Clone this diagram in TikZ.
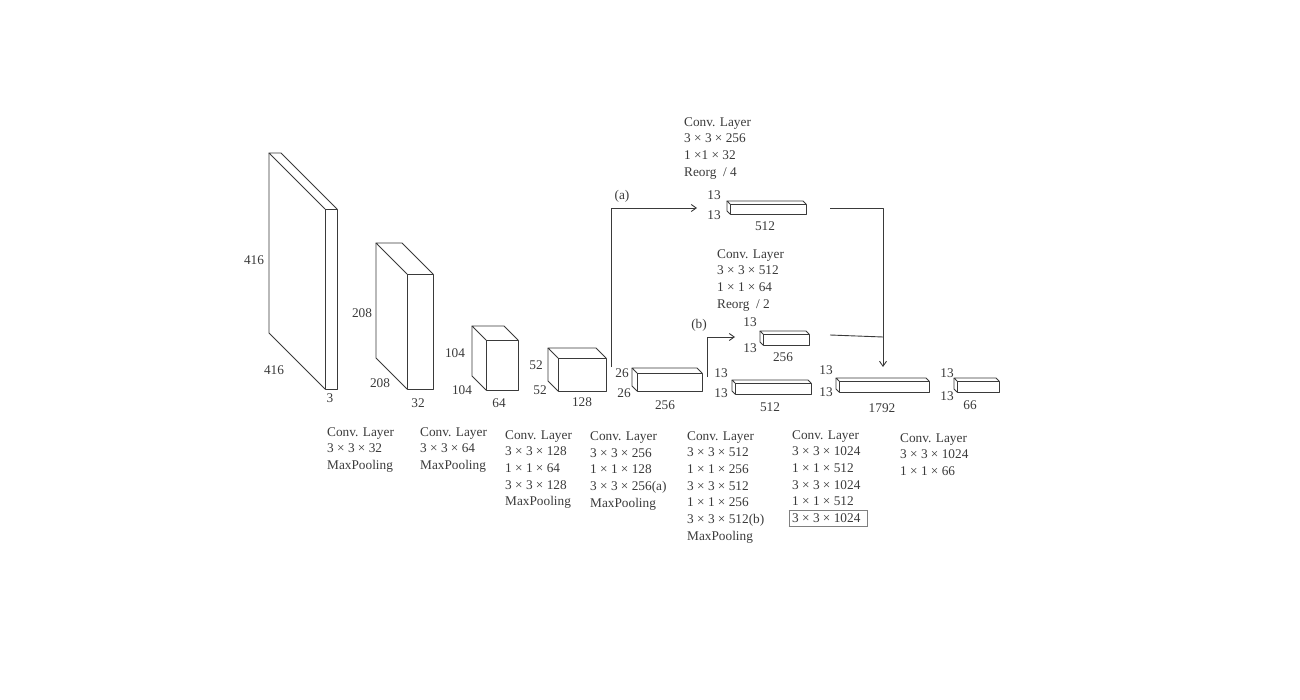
\documentclass[tikz,border=0pt]{standalone}
\usepackage{fontspec}
\setmainfont{Liberation Serif}
\usetikzlibrary{arrows.meta}
\definecolor{ink}{HTML}{3A3A3A}
\tikzset{
 edge/.style={draw=ink, line width=0.9pt, line join=round},
 face/.style={edge, fill=white, inner sep=0pt, outer sep=0pt},
 dim/.style={text=ink, font=\fontsize{13.3}{16.7}\selectfont, inner sep=0pt},
 blk/.style={dim, align=left, anchor=north west},
 arr/.style={edge, -{Straight Barb[length=5pt,width=7pt]}},
}
% name, cx, cy, w, h, depth
\newcommand\cub[6]{%
 \node[face,minimum width=#4pt,minimum height=#5pt] (#1) at (#2,#3) {};
 \draw[edge] (#1.north west) -- ++(-#6,-#6) -- ++(#4,0) -- (#1.north east);
 \draw[edge] (#1.north west) ++(-#6,-#6) -- ++(0,#5) -- (#1.south west);
}
\begin{document}
\begin{tikzpicture}[x=1pt,y=-1pt]
\useasboundingbox (0,0) rectangle (1300,700);
% cuboids
\cub{b1}{331}{299}{12}{180}{56}
\cub{b2}{420}{331.5}{26}{115}{31}
\cub{b3}{502}{365}{32}{50}{14}
\cub{b4}{582}{374.5}{48}{33}{10}
\cub{b5}{669.5}{382}{65}{18}{5}
\cub{ba}{768}{209}{76}{10}{3}
\cub{bb}{786}{339.5}{46}{11}{3}
\cub{b6}{773}{388.5}{76}{11}{3}
\cub{b7}{884}{386.5}{90}{11}{3}
\cub{b8}{978}{386.5}{42}{11}{3}
% dimension labels
\node[dim] (d1a) at (254,260) {416};
\node[dim] (d1b) at (274,370) {416};
\node[dim] (d1c) at (330,398) {3};
\node[dim] (d2a) at (362,313) {208};
\node[dim] (d2b) at (380,383) {208};
\node[dim] (d2c) at (418,403) {32};
\node[dim] (d3a) at (455,353) {104};
\node[dim] (d3b) at (462,390) {104};
\node[dim] (d3c) at (499,403) {64};
\node[dim] (d4a) at (536,365) {52};
\node[dim] (d4b) at (540,390) {52};
\node[dim] (d4c) at (582,402) {128};
\node[dim] (d5a) at (622,373) {26};
\node[dim] (d5b) at (624,393) {26};
\node[dim] (d5c) at (665,405) {256};
\node[dim] (daa) at (714,195) {13};
\node[dim] (dab) at (714,215) {13};
\node[dim] (dac) at (765,226) {512};
\node[dim] (dba) at (750,322) {13};
\node[dim] (dbb) at (750,348) {13};
\node[dim] (dbc) at (783,357) {256};
\node[dim] (d6a) at (721,373) {13};
\node[dim] (d6b) at (721,393) {13};
\node[dim] (d6c) at (770,407) {512};
\node[dim] (d7a) at (826,370) {13};
\node[dim] (d7b) at (826,392) {13};
\node[dim] (d7c) at (882,408) {1792};
\node[dim] (d8a) at (947,373) {13};
\node[dim] (d8b) at (947,396) {13};
\node[dim] (d8c) at (970,405) {66};
% connectors
\coordinate (as) at (611,367);
\coordinate (at) at (697,208);
\draw[arr] (as) |- (at);
\node[dim] (la) at (622,196) {(a)};
\coordinate (ae) at (830,208);
\coordinate (mt) at (883,367);
\draw[arr] (ae) -| (mt);
\coordinate (bs) at (707,377);
\coordinate (bt) at (735,337);
\draw[arr] (bs) |- (bt);
\node[dim] (lb) at (699,325) {(b)};
\coordinate (be) at (830,335);
\coordinate (bj) at (883,337);
\draw[edge] (be) -- (bj);
% text blocks
\node[blk] (ta) at (684,117) {Conv. Layer\\3 × 3 × 256\\1 ×1 × 32\\Reorg~ / 4};
\node[blk] (tb) at (717,249) {Conv. Layer\\3 × 3 × 512\\1 × 1 × 64\\Reorg~ / 2};
\node[blk] (t1) at (327,427) {Conv. Layer\\3 × 3 × 32\\MaxPooling};
\node[blk] (t2) at (420,427) {Conv. Layer\\3 × 3 × 64\\MaxPooling};
\node[blk] (t3) at (505,430) {Conv. Layer\\3 × 3 × 128\\1 × 1 × 64\\3 × 3 × 128\\MaxPooling};
\node[blk] (t4) at (590,431.5) {Conv. Layer\\3 × 3 × 256\\1 × 1 × 128\\3 × 3 × 256(a)\\MaxPooling};
\node[blk] (t5) at (687,431) {Conv. Layer\\3 × 3 × 512\\1 × 1 × 256\\3 × 3 × 512\\1 × 1 × 256\\3 × 3 × 512(b)\\MaxPooling};
\node[blk] (t6) at (792,430) {Conv. Layer\\3 × 3 × 1024\\1 × 1 × 512\\3 × 3 × 1024\\1 × 1 × 512\\{\setlength\fboxsep{3pt}\setlength\fboxrule{0.7pt}\hspace*{-3.7pt}\fcolorbox{gray}{white}{3 × 3 × 1024\hspace{4pt}}}};
\node[blk] (t7) at (900,433) {Conv. Layer\\3 × 3 × 1024\\1 × 1 × 66};
\end{tikzpicture}
\end{document}
